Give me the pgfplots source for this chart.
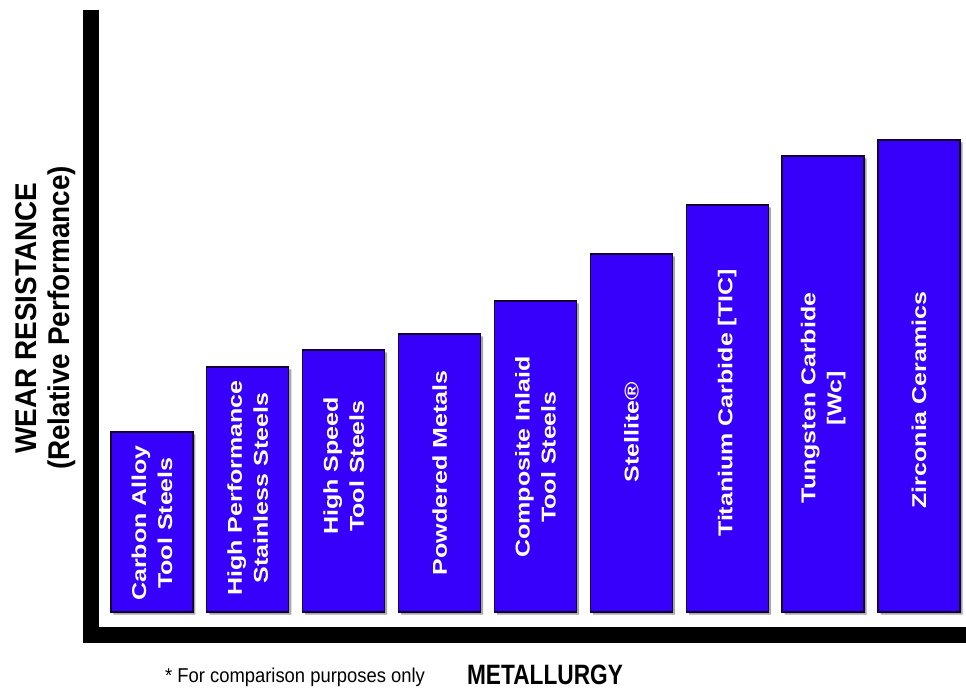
\documentclass[border=0pt]{standalone}
\usepackage{pgfplots}
\pgfplotsset{compat=1.18}
\usepackage{fontspec}
\setmainfont{Liberation Sans}
\definecolor{barblue}{RGB}{55,0,250}
\definecolor{baredge}{RGB}{20,0,50}
\newcommand{\bl}[1]{\scalebox{1.25}[1]{#1}}
\begin{document}
\begin{tikzpicture}
\path[use as bounding box] (0pt,0pt) rectangle (966pt,688pt);
\begin{axis}[
  at={(90.5pt,53pt)}, anchor=south west, scale only axis,
  width=875.5pt, height=625pt,
  xmin=-0.641, xmax=8.49, ymin=-23, ymax=602,
  hide axis, clip=false,
  ybar, bar width=82pt,
]
\addplot[fill=barblue, draw=baredge, line width=1.3pt,
  preaction={fill=black!35, draw=none, transform canvas={xshift=2.5pt,yshift=-2.5pt}}]
  coordinates {(0,180) (1,245) (2,262) (3,278) (4,311) (5,358) (6,407) (7,456) (8,472)};
\draw[line width=16pt, line join=miter] (rel axis cs:0,1) -- (rel axis cs:0,0) -- (rel axis cs:1,0);
\tikzset{blabel/.style={rotate=90, align=center, text=white, font=\bfseries\fontsize{20}{26}\selectfont, inner sep=0pt}}
\node[blabel] at (axis cs:0,89) {\bl{Carbon Alloy}\\\bl{Tool Steels}};
\node[blabel] at (axis cs:1,124) {\bl{High Performance}\\\bl{Stainless Steels}};
\node[blabel] at (axis cs:2,146) {\bl{High Speed}\\\bl{Tool Steels}};
\node[blabel] at (axis cs:3,139) {\bl{Powdered Metals}};
\node[blabel] at (axis cs:4,155) {\bl{Composite Inlaid}\\\bl{Tool Steels}};
\node[blabel] at (axis cs:5,180) {\bl{Stellite®}};
\node[blabel] at (axis cs:6,209) {\bl{Titanium Carbide [TIC]}};
\node[blabel] at (axis cs:7,214) {\bl{Tungsten Carbide}\\\bl{[Wc]}};
\node[blabel] at (axis cs:8,212) {\bl{Zirconia Ceramics}};
\end{axis}
\node[rotate=90, font=\bfseries\fontsize{30}{32}\selectfont, inner sep=0pt] at (26pt,370pt) {\scalebox{0.93}[1]{WEAR RESISTANCE}};
\node[rotate=90, font=\bfseries\fontsize{30}{32}\selectfont, inner sep=0pt] at (62pt,370pt) {\scalebox{0.93}[1]{(Relative Performance)}};
\node[font=\bfseries\fontsize{28}{30}\selectfont, inner sep=0pt, anchor=base] at (545pt,4pt) {\scalebox{0.81}[1]{METALLURGY}};
\node[font=\fontsize{20}{22}\selectfont, inner sep=0pt, anchor=base] at (295pt,6pt) {\scalebox{0.92}[1]{* For comparison purposes only}};
\end{tikzpicture}
\end{document}
